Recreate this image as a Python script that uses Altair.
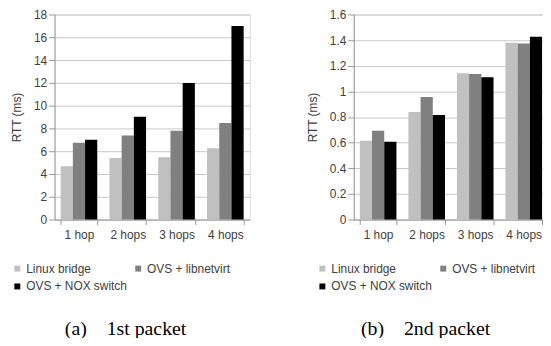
import altair as alt
import pandas as pd

hops = ["1 hop", "2 hops", "3 hops", "4 hops"]
series = ["Linux bridge", "OVS + libnetvirt", "OVS + NOX switch"]
colors = ["#c0c0c0", "#808080", "#000000"]
# legend lays entries out column by column
legend_order = ["Linux bridge", "OVS + NOX switch", "OVS + libnetvirt"]
legend_colors = ["#c0c0c0", "#000000", "#808080"]

first_linux = [4.68, 5.40, 5.47, 6.26]
first_libnv = [6.75, 7.37, 7.80, 8.48]
first_nox = [7.00, 9.02, 11.98, 17.00]

second_linux = [0.615, 0.840, 1.141, 1.380]
second_libnv = [0.693, 0.956, 1.136, 1.374]
second_nox = [0.607, 0.816, 1.110, 1.427]

FONT = "Liberation Sans"
GREY = "#404040"


def make_df(a, b, c):
    rows = []
    for vals, s in zip([a, b, c], series):
        for h, v in zip(hops, vals):
            rows.append({"hop": h, "series": s, "value": v})
    return pd.DataFrame(rows)


def panel(df, ymax, yvals, title, dx, legend_x):
    return (
        alt.Chart(
            df,
            title=alt.TitleParams(
                title,
                orient="bottom",
                anchor="middle",
                font="Liberation Serif",
                fontSize=20,
                fontWeight="normal",
                color="black",
                dx=dx,
                offset=27,
            ),
        )
        .mark_bar()
        .encode(
            x=alt.X(
                "hop:N",
                sort=hops,
                scale=alt.Scale(paddingInner=0.25, paddingOuter=0.125),
                axis=alt.Axis(
                    title=None,
                    labelAngle=0,
                    tickBand="extent",
                    tickSize=5,
                    labelPadding=5,
                    labelFontSize=12,
                    labelFont=FONT,
                    labelColor=GREY,
                    domainColor="#999999",
                    tickColor="#999999",
                    grid=False,
                ),
            ),
            xOffset=alt.XOffset(
                "series:N", sort=series, scale=alt.Scale(paddingInner=0, paddingOuter=0)
            ),
            y=alt.Y(
                "value:Q",
                scale=alt.Scale(domain=[0, ymax], nice=False),
                axis=alt.Axis(
                    title="RTT (ms)",
                    values=yvals,
                    format="~g",
                    tickSize=6,
                    labelPadding=2,
                    labelFontSize=12,
                    labelFont=FONT,
                    labelColor=GREY,
                    titleFont=FONT,
                    titleFontSize=12,
                    titleFontWeight="normal",
                    titleColor=GREY,
                    titlePadding=10,
                    domainColor="#999999",
                    tickColor="#999999",
                    gridColor="#c8c8c8",
                ),
            ),
            color=alt.Color(
                "series:N",
                scale=alt.Scale(domain=legend_order, range=legend_colors),
                legend=alt.Legend(
                    title=None,
                    orient="none",
                    legendX=legend_x,
                    legendY=250.5,
                    columns=2,
                    columnPadding=5,
                    rowPadding=6,
                    padding=0,
                    symbolType="square",
                    symbolSize=36,
                    symbolStrokeWidth=0,
                    labelOffset=3,
                    labelFont=FONT,
                    labelFontSize=12,
                    labelColor=GREY,
                ),
            ),
        )
        .properties(width=197, height=207)
    )


left = panel(
    make_df(first_linux, first_libnv, first_nox),
    18,
    list(range(0, 19, 2)),
    "(a)\u00a0\u00a0\u00a0\u00a01st packet",
    -26.8,
    -43.6,
)
right = panel(
    make_df(second_linux, second_libnv, second_nox),
    1.6,
    [0, 0.2, 0.4, 0.6, 0.8, 1.0, 1.2, 1.4, 1.6],
    "(b)\u00a0\u00a0\u00a0\u00a02nd packet",
    -25.5,
    -37.7,
).properties(width=196)

chart = (
    alt.hconcat(left, right, spacing=55)
    .resolve_scale(color="independent", y="independent")
    .properties(padding={"left": 2, "top": -2, "right": -6, "bottom": -3})
    .configure_view(stroke="#b0b0b0")
    .configure(background="white")
)

chart.save("out.html", embed_options={"renderer": "svg", "actions": False})
